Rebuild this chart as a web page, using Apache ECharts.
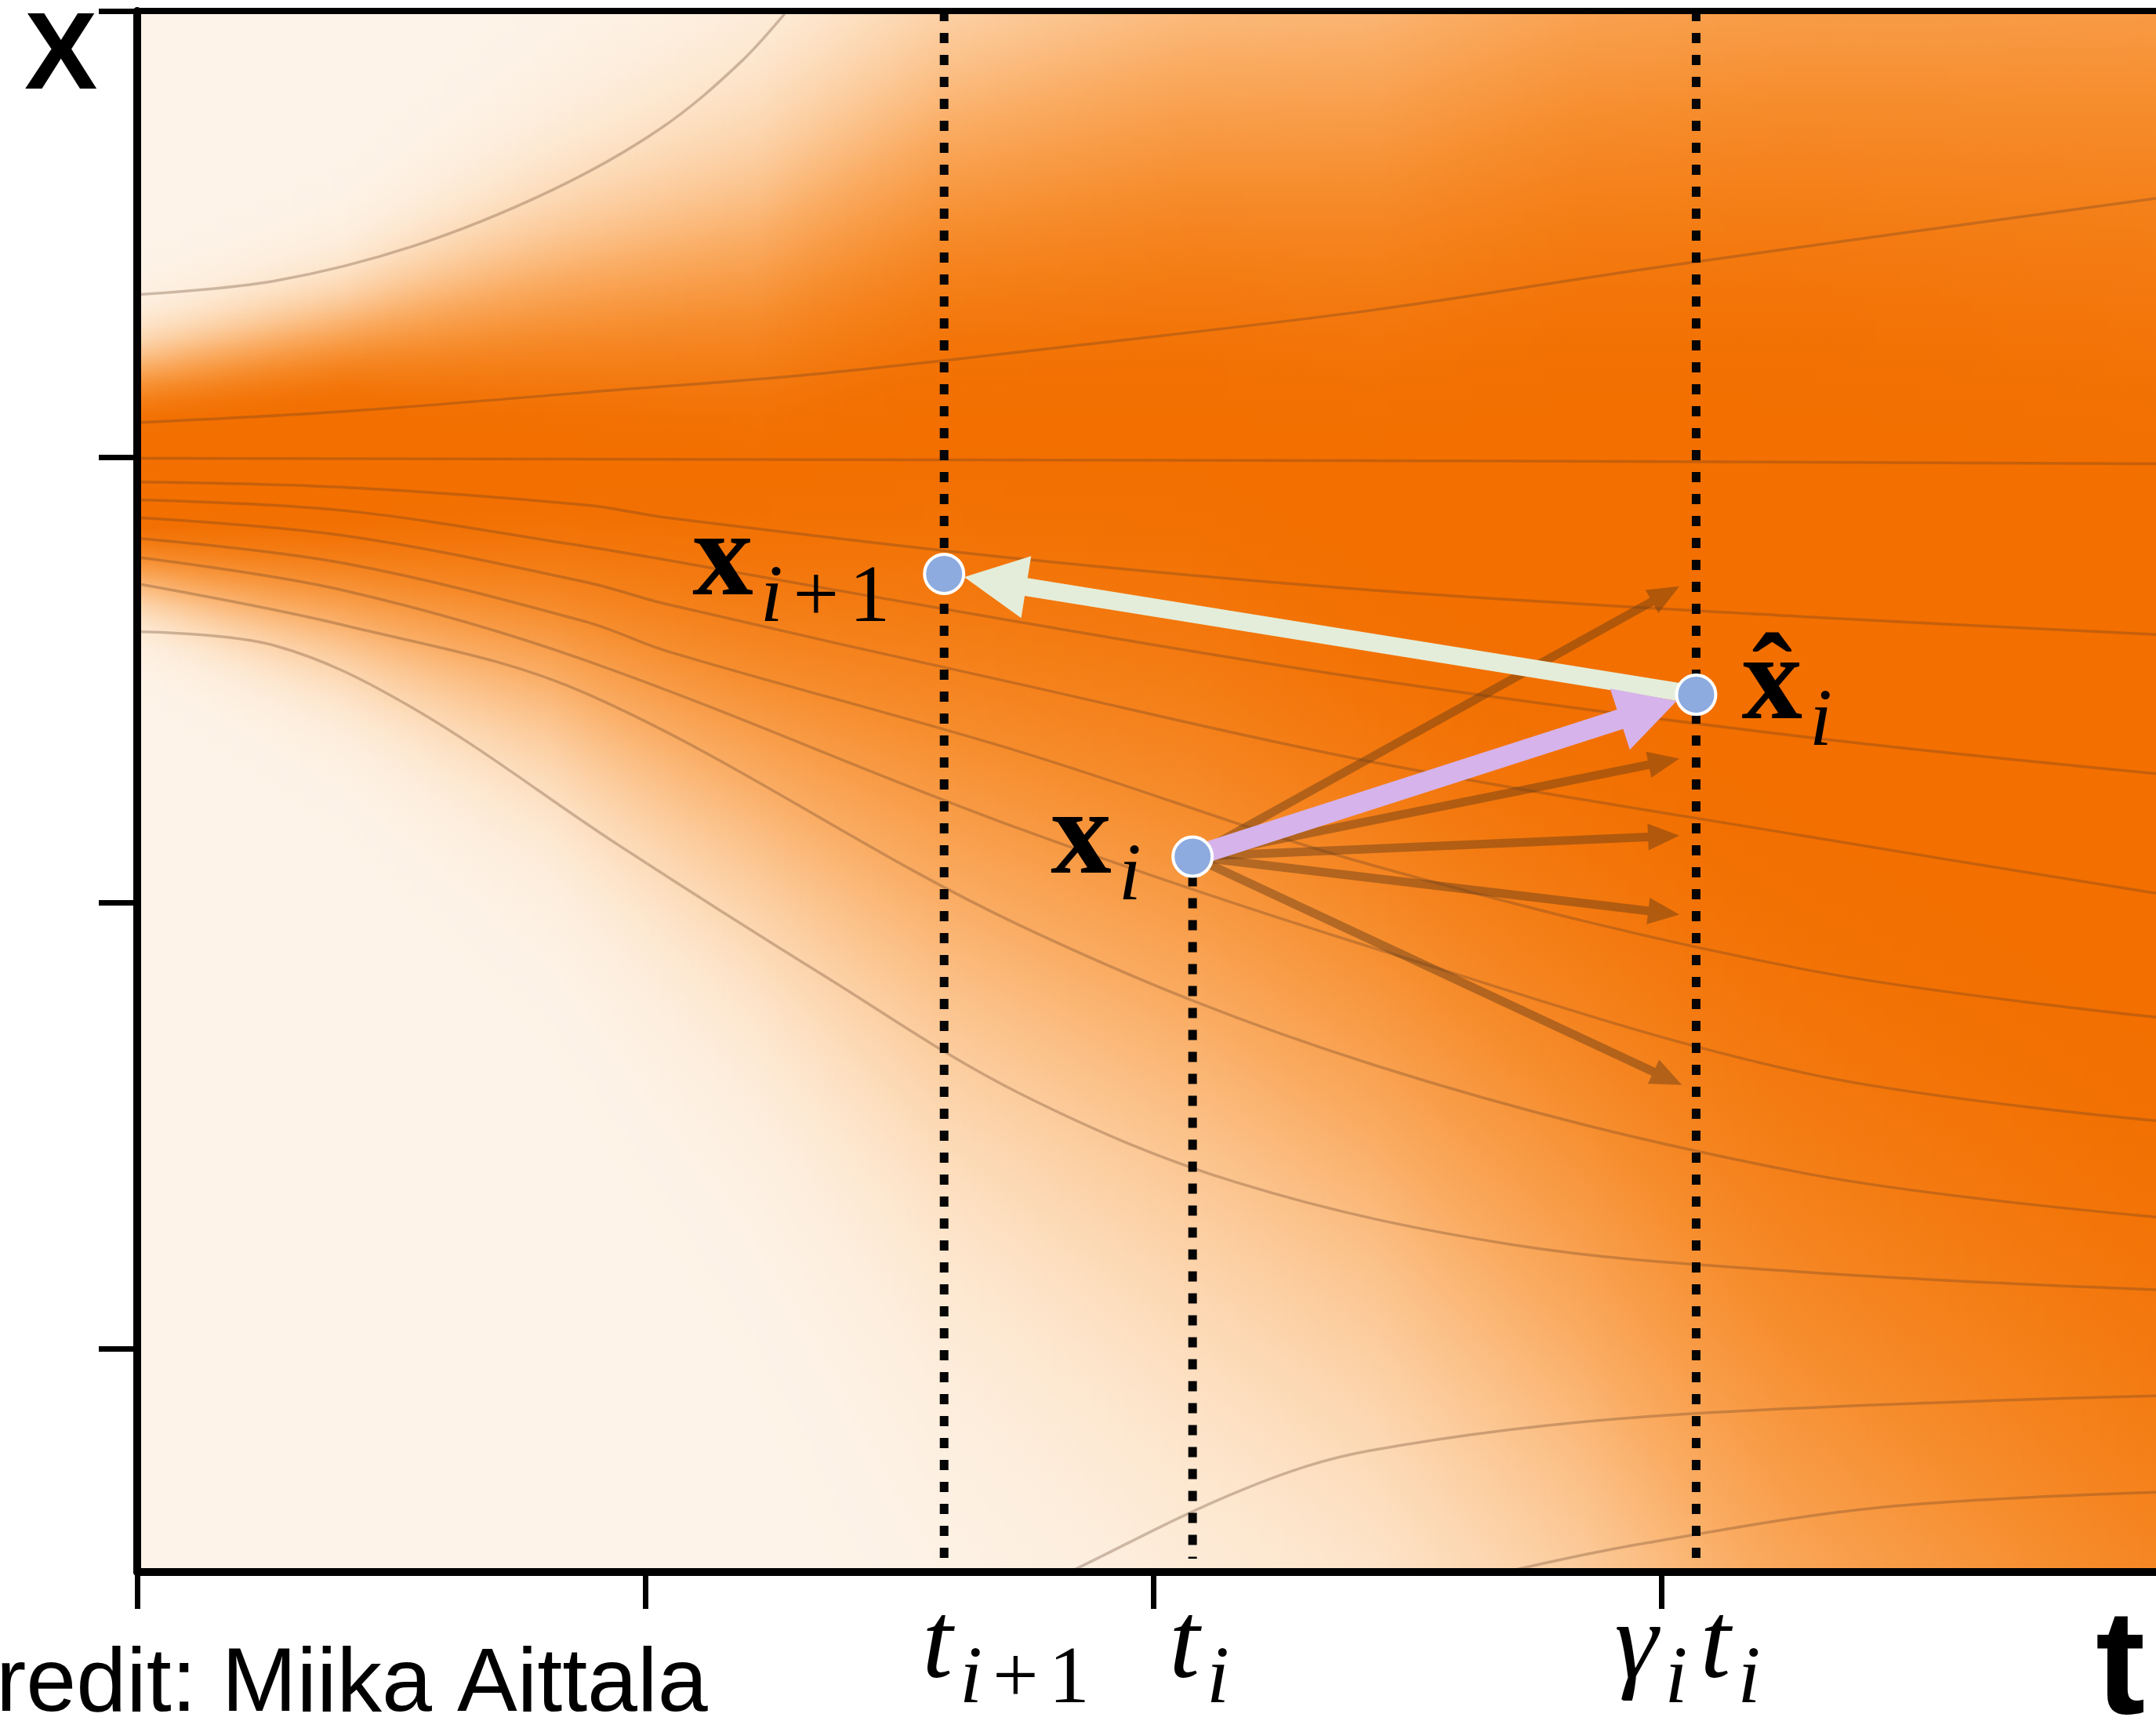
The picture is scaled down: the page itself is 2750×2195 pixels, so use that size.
<!DOCTYPE html>
<html>
<head>
<meta charset="utf-8">
<script src="https://cdn.jsdelivr.net/npm/echarts@6.0.0/dist/echarts.min.js"></script>
<style>
  html, body { margin: 0; padding: 0; background: #ffffff; }
  #chart { width: 2750px; height: 2195px; }
</style>
</head>
<body>
<div id="chart"></div>
<script>
// ---- axes ----
const T_MIN = 0, T_MAX = 3.973;
const X_MIN = -1.5, X_MAX = 2.0;
const tTicks = [0, 1, 2, 3];
const xTicks = [-1, 0, 1, 2];

// ---- probability density: flat core plus soft spread, per time column (state units) ----
const densityT        = [0, 0.406, 0.812, 1.218, 1.592, 2.073, 2.436, 2.842, 3.248, 3.654, 3.973];
const densityCoreTop  = [1.065, 1.102, 1.040, 0.978, 1.071, 1.056, 0.991, 1.068, 1.049, 0.963, 0.886];
const densityCoreLow  = [0.861, 0.886, 0.941, 0.972, 1.071, 1.056, 0.821, 0.577, 0.309, 0.052, -0.176];
const densitySpreadUp = [0.112, 0.158, 0.300, 0.430, 0.560, 0.700, 0.780, 0.880, 0.960, 1.060, 1.160];
const densitySpreadDn = [0.111, 0.210, 0.361, 0.586, 0.880, 1.093, 1.130, 1.312, 1.617, 1.775, 1.920];

// ---- ODE flow trajectories [t, x] ----
const flowA  = [[0,1.364],[0.271,1.395],[0.541,1.472],[0.812,1.596],[1.028,1.735],[1.191,1.889],[1.299,2.028]];
const flowB  = [[0,1.077],[0.406,1.102],[0.885,1.145],[1.353,1.188],[1.894,1.256],[2.436,1.330],[2.977,1.423],[3.518,1.509],[3.973,1.580]];
const flowC  = [[0,0.997],[1.353,0.994],[2.706,0.991],[3.973,0.985]];
const flowD1 = [[0,0.944],[0.406,0.932],[0.885,0.892],[1.042,0.864],[1.735,0.772],[2.436,0.701],[3.277,0.642],[3.973,0.602]];
const flowD2 = [[0,0.904],[0.406,0.880],[0.885,0.799],[1.042,0.769],[1.735,0.630],[2.436,0.500],[3.277,0.373],[3.973,0.290]];
const flowD3 = [[0,0.864],[0.406,0.824],[0.885,0.719],[1.042,0.670],[1.735,0.491],[2.436,0.315],[3.277,0.151],[3.973,0.022]];
const flowD4 = [[0,0.818],[0.406,0.762],[0.885,0.630],[1.042,0.565],[1.735,0.340],[2.436,0.083],[3.277,-0.148],[3.973,-0.256]];
const flowD5 = [[0,0.775],[0.406,0.701],[0.885,0.543],[1.735,0.167],[2.436,-0.102],[3.277,-0.380],[3.973,-0.488]];
const flowD6 = [[0,0.716],[0.406,0.623],[0.885,0.469],[1.735,-0.049],[2.436,-0.364],[3.277,-0.605],[3.973,-0.704]];
const flowG  = [[0,0.608],[0.271,0.577],[0.541,0.438],[0.947,0.130],[1.353,-0.164],[1.735,-0.426],[2.165,-0.627],[2.706,-0.766],[3.277,-0.827],[3.973,-0.867]];
const flowE  = [[1.678,-1.590],[1.835,-1.500],[2.176,-1.315],[2.425,-1.228],[2.977,-1.151],[3.973,-1.105]];
const flowF  = [[2.436,-1.577],[2.693,-1.500],[2.969,-1.435],[3.432,-1.355],[3.973,-1.321]];
const flows = [flowA, flowB, flowC, flowD1, flowD2, flowD3, flowD4, flowD5, flowD6, flowG, flowE, flowF];

// ---- sampler step ----
const tMarks = [1.588, 2.077, 3.068];                 // t_{i+1}, t_i, gamma_i t_i
const tMarkSpan = [[2.0, -1.47], [0.06, -1.47], [2.0, -1.47]];
const tMarkLabels = [
  [['t', 'm'], ['i', 's'], ['+', 'u'], ['1', 'u']],
  [['t', 'm'], ['i', 's']],
  [['γ', 'm'], ['i', 's'], ['t', 'm'], ['i', 's']]
];
const states = [[1.588, 0.738], [2.077, 0.104], [3.068, 0.467]];   // x_{i+1}, x_i, x̂_i
const stateLabels = [
  [['x', 'b'], ['i', 's'], ['+', 'u'], ['1', 'u']],
  [['x', 'b'], ['i', 's']],
  [['x', 'b'], ['ˆ', 'hat'], ['i', 's']]
];
const noiseTips = [[3.035, 0.710], [3.035, 0.324], [3.035, 0.151], [3.035, -0.026], [3.040, -0.408]];

// ---- styling ----
const MATH_FONT = '"Liberation Serif", "DejaVu Serif", serif';
const PIECE = {
  b: { font: 'bold 155px ' + MATH_FONT, size: 155, dy: 0 },
  m: { font: 'italic 140px ' + MATH_FONT, size: 140, dy: 0 },
  s: { font: 'italic 104px ' + MATH_FONT, size: 104, dy: 29 },
  u: { font: '104px ' + MATH_FONT, size: 104, dy: 29 }
};
const BASE_K = 0.34;
const LAYOUT = {
  tickLabelDy: 145,
  tickLabelDx: [-28, -30, -104],
  stateLabel: [{ dx: -321, dy: 39 }, { dx: -181, dy: 33 }, { dx: 58, dy: 43 }]
};
const ARROW_STYLE = {
  noise:   { fill: 'rgba(100,58,22,0.46)', shaft: 11, headLen: 40, headW: 34, inset: 0 },
  perturb: { fill: '#d6b3ea', shaft: 26, headLen: 76, headW: 82, inset: 26 },
  step:    { fill: '#e4edd9', shaft: 23, headLen: 80, headW: 80, inset: 26 }
};
const RAMP = [
  [0.00, [253, 243, 232]],
  [0.10, [253, 231, 207]],
  [0.25, [252, 209, 166]],
  [0.50, [250, 171, 97]],
  [0.75, [246, 139, 42]],
  [1.00, [242, 111, 0]]
];

function rampColor(v) {
  v = Math.max(0, Math.min(1, v));
  for (let i = 1; i < RAMP.length; i++) {
    if (v <= RAMP[i][0]) {
      const a = RAMP[i - 1], b = RAMP[i];
      const f = (v - a[0]) / (b[0] - a[0]);
      const c = a[1].map((x, k) => Math.round(x + (b[1][k] - x) * f));
      return 'rgb(' + c.join(',') + ')';
    }
  }
  return 'rgb(' + RAMP[RAMP.length - 1][1].join(',') + ')';
}
// flat core with gaussian-shaped shoulders (all in pixels)
function bandIntensity(y, top, low, sUp, sDn) {
  if (y < top) { const d = (top - y) / sUp; return Math.exp(-0.5 * d * d); }
  if (y > low) { const d = (y - low) / sDn; return Math.exp(-0.5 * d * d); }
  return 1;
}

// density drawn as thin vertical strips, each with its own vertical gradient
function renderDensity(params, api) {
  const i = params.dataIndex;
  if (i >= densityT.length - 1) return null;
  const cs = params.coordSys;
  const xa = api.coord([densityT[i], 0])[0];
  const xb = api.coord([densityT[i + 1], 0])[0];
  const unit = Math.abs(api.coord([0, 1])[1] - api.coord([0, 0])[1]);
  const n = Math.max(1, Math.ceil((xb - xa) / 4));
  const lerp = (arr, f) => arr[i] + (arr[i + 1] - arr[i]) * f;
  const children = [];
  const M = 100;
  for (let k = 0; k < n; k++) {
    const f = (k + 0.5) / n;
    const tt = lerp(densityT, f);
    const top = api.coord([tt, lerp(densityCoreTop, f)])[1];
    const low = Math.max(top, api.coord([tt, lerp(densityCoreLow, f)])[1]);
    const sUp = lerp(densitySpreadUp, f) * unit;
    const sDn = lerp(densitySpreadDn, f) * unit;
    const stops = [];
    for (let j = 0; j <= M; j++) {
      const y = cs.y + cs.height * j / M;
      stops.push({ offset: j / M, color: rampColor(bandIntensity(y, top, low, sUp, sDn)) });
    }
    children.push({
      type: 'rect',
      shape: { x: xa + (xb - xa) * k / n, y: cs.y, width: (xb - xa) / n + 1, height: cs.height },
      style: { fill: new echarts.graphic.LinearGradient(0, 0, 0, 1, stops) }
    });
  }
  return { type: 'group', children };
}

// math-style text built from pieces (main / subscript)
const measureCtx = document.createElement('canvas').getContext('2d');
function textWidth(s, font) { measureCtx.font = font; return measureCtx.measureText(s).width; }
function textEl(txt, x, baseline, st, align) {
  return {
    type: 'text',
    style: {
      text: txt, x: x, y: baseline - BASE_K * st.size, font: st.font, fill: '#000',
      textAlign: align, textVerticalAlign: 'middle', align: align, verticalAlign: 'middle'
    }
  };
}
function mathText(pieces, x0, baseline) {
  const out = [];
  let x = x0, prev = null, prevX = x0, prevW = 0;
  pieces.forEach(([txt, kind]) => {
    if (kind === 'hat') {
      out.push(textEl(txt, prevX + prevW / 2, baseline, PIECE.b, 'center'));
      return;
    }
    const st = PIECE[kind];
    const isSub = kind === 's' || kind === 'u';
    if (prev) {
      const prevSub = prev === 's' || prev === 'u';
      x += isSub ? (prevSub ? 13 : 9) : (prevSub ? 16 : 0);
    }
    const w = textWidth(txt, st.font);
    out.push(textEl(txt, x, baseline + st.dy, st, 'left'));
    prevX = x; prevW = w; x += w; prev = kind;
  });
  return out;
}

function renderMarks(params, api) {
  const i = params.dataIndex;
  const t = tMarks[i];
  const a = api.coord([t, tMarkSpan[i][0]]);
  const b = api.coord([t, tMarkSpan[i][1]]);
  const axisY = api.coord([t, X_MIN])[1];
  const children = [{
    type: 'line',
    shape: { x1: a[0], y1: a[1], x2: b[0], y2: b[1] },
    style: { stroke: '#050505', lineWidth: 11, lineDash: [13, 15] }
  }];
  return {
    type: 'group',
    children: children.concat(mathText(tMarkLabels[i], a[0] + LAYOUT.tickLabelDx[i], axisY + LAYOUT.tickLabelDy))
  };
}

const arrowData = noiseTips.map(p => [states[1][0], states[1][1], p[0], p[1], 'noise'])
  .concat([[states[2][0], states[2][1], states[0][0], states[0][1], 'step']])
  .concat([[states[1][0], states[1][1], states[2][0], states[2][1], 'perturb']]);

function renderArrow(params, api) {
  const d = arrowData[params.dataIndex];
  const st = ARROW_STYLE[d[4]];
  const p0 = api.coord([d[0], d[1]]);
  const p1 = api.coord([d[2], d[3]]);
  const dx = p1[0] - p0[0], dy = p1[1] - p0[1];
  const len = Math.hypot(dx, dy);
  const ux = dx / len, uy = dy / len;
  const nx = -uy, ny = ux;
  const tip = [p1[0] - ux * st.inset, p1[1] - uy * st.inset];
  const base = [tip[0] - ux * st.headLen, tip[1] - uy * st.headLen];
  const w = st.shaft / 2, h = st.headW / 2;
  const pts = [
    [p0[0] + nx * w, p0[1] + ny * w],
    [base[0] + nx * w, base[1] + ny * w],
    [base[0] + nx * h, base[1] + ny * h],
    tip,
    [base[0] - nx * h, base[1] - ny * h],
    [base[0] - nx * w, base[1] - ny * w],
    [p0[0] - nx * w, p0[1] - ny * w]
  ];
  return { type: 'polygon', shape: { points: pts }, style: { fill: st.fill } };
}

function renderStates(params, api) {
  const i = params.dataIndex;
  const c = api.coord(states[i]);
  const lay = LAYOUT.stateLabel[i];
  return {
    type: 'group',
    children: [{
      type: 'circle',
      shape: { cx: c[0], cy: c[1], r: 25 },
      style: { fill: '#8dabdf', stroke: '#ffffff', lineWidth: 4 }
    }].concat(mathText(stateLabels[i], c[0] + lay.dx, c[1] + lay.dy))
  };
}

const chart = echarts.init(document.getElementById('chart'), null, { renderer: 'canvas', width: 2750, height: 2195 });

const flowSeries = flows.map(f => ({
  type: 'line',
  data: f,
  smooth: 0.35,
  symbol: 'none',
  silent: true,
  z: 2,
  lineStyle: { color: 'rgba(95,60,35,0.3)', width: 3.5 }
}));

chart.setOption({
  animation: false,
  backgroundColor: '#ffffff',
  grid: { left: 175, right: 0, top: 14, bottom: 190, containLabel: false, outerBoundsMode: 'none' },
  xAxis: [{
    type: 'value', min: T_MIN, max: T_MAX, interval: 1, z: 10,
    axisLine: { show: true, onZero: false, lineStyle: { color: '#000', width: 10 } },
    axisTick: { show: true, length: 47, customValues: tTicks, lineStyle: { color: '#000', width: 7 } },
    axisLabel: { show: false },
    splitLine: { show: false }
  }, {
    type: 'value', position: 'top', min: T_MIN, max: T_MAX, z: 10,
    axisLine: { show: true, onZero: false, lineStyle: { color: '#000', width: 8 } },
    axisTick: { show: false }, axisLabel: { show: false }, splitLine: { show: false }
  }],
  yAxis: {
    type: 'value', min: X_MIN, max: X_MAX, interval: 0.5, z: 10,
    axisLine: { show: true, onZero: false, lineStyle: { color: '#000', width: 10 } },
    axisTick: { show: true, length: 49, customValues: xTicks, lineStyle: { color: '#000', width: 7 } },
    axisLabel: { show: false },
    splitLine: { show: false }
  },
  graphic: [
    { type: 'text', x: 31, y: 123 - 0.3465 * 140, style: { text: 'X', font: 'bold 140px "Liberation Sans", Arial, sans-serif', fill: '#000', textAlign: 'left', textVerticalAlign: 'middle', align: 'left', verticalAlign: 'middle' } },
    { type: 'text', x: 2673, y: 2198 - 0.3465 * 190, style: { text: 't', font: 'bold 190px "Liberation Sans", Arial, sans-serif', fill: '#000', textAlign: 'left', textVerticalAlign: 'middle', align: 'left', verticalAlign: 'middle' } },
    { type: 'text', x: -88, y: 2190 - 0.3465 * 115, style: { text: 'Credit: Miika Aittala', font: '115px "Liberation Sans", Arial, sans-serif', fill: '#000', textAlign: 'left', textVerticalAlign: 'middle', align: 'left', verticalAlign: 'middle' } }
  ],
  series: [
    {
      type: 'custom', name: 'density', renderItem: renderDensity, clip: true, silent: true, z: 1,
      data: densityT.map((t, i) => [t, densityCoreTop[i]])
    }
  ].concat(flowSeries).concat([
    {
      type: 'custom', name: 'steps', renderItem: renderMarks, clip: false, silent: true, z: 3,
      data: tMarks.map(t => [t, 0])
    },
    {
      type: 'custom', name: 'arrows', renderItem: renderArrow, clip: false, silent: true, z: 4,
      data: arrowData.map(d => [d[2], d[3]])
    },
    {
      type: 'custom', name: 'states', renderItem: renderStates, clip: false, silent: true, z: 5,
      data: states
    }
  ])
});
</script>
</body>
</html>
